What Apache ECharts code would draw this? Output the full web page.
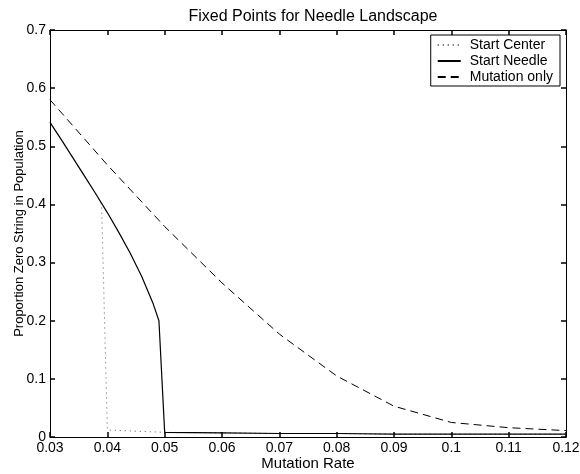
<!DOCTYPE html>
<html>
<head>
<meta charset="utf-8">
<script src="https://cdn.jsdelivr.net/npm/echarts@6/dist/echarts.min.js"></script>
<style>
  html, body { margin: 0; padding: 0; background: #fff; }
  #main { width: 580px; height: 474px; }
</style>
</head>
<body>
<div id="main"></div>
<script>
// values
var centerX = [0.03, 0.032, 0.034, 0.036, 0.038, 0.039, 0.04, 0.05, 0.06, 0.07, 0.08, 0.09, 0.1, 0.11, 0.12];
var centerY = [0.541, 0.511, 0.480, 0.449, 0.418, 0.400, 0.012, 0.008, 0.007, 0.006, 0.006, 0.005, 0.005, 0.005, 0.005];

var needleX = [0.03, 0.032, 0.034, 0.036, 0.038, 0.04, 0.042, 0.044, 0.046, 0.048, 0.049, 0.05, 0.06, 0.07, 0.08, 0.09, 0.1, 0.11, 0.12];
var needleY = [0.541, 0.511, 0.480, 0.449, 0.418, 0.386, 0.352, 0.316, 0.276, 0.229, 0.200, 0.008, 0.007, 0.006, 0.006, 0.005, 0.005, 0.005, 0.005];

var mutX = [0.03, 0.04, 0.05, 0.06, 0.07, 0.08, 0.09, 0.1, 0.11, 0.12];
var mutY = [0.580, 0.468, 0.362, 0.265, 0.177, 0.105, 0.053, 0.025, 0.016, 0.011];

var names = ['Start Center', 'Start Needle', 'Mutation only'];

function pairs(xs, ys) {
    return xs.map(function (x, i) { return [x, ys[i]]; });
}

var font = 'Liberation Sans, Arial, sans-serif';
var chart = echarts.init(document.getElementById('main'));

function tick() {
    return { show: true, inside: true, length: 5, lineStyle: { color: '#000', width: 1.5 } };
}
function line() {
    return { show: true, onZero: false, lineStyle: { color: '#000', width: 1 } };
}

var option = {
    animation: false,
    backgroundColor: '#fff',
    title: {
        text: 'Fixed Points for Needle Landscape',
        left: 308,
        textAlign: 'center',
        top: 4,
        textStyle: { fontFamily: font, fontSize: 16, fontWeight: 'normal', color: '#000' }
    },
    legend: {
        data: names,
        orient: 'vertical',
        right: 20,
        top: 35,
        itemWidth: 23,
        itemHeight: 14,
        itemGap: 2,
        padding: [3, 7, 2, 6],
        borderColor: '#000',
        borderWidth: 1,
        backgroundColor: '#fff',
        itemStyle: { opacity: 0 },
        textStyle: { fontFamily: font, fontSize: 14, color: '#000', padding: [0, 0, 0, 4] }
    },
    grid: { left: 50, right: 14, top: 30, bottom: 37, outerBoundsMode: 'none', containLabel: false },
    xAxis: [{
        type: 'value',
        min: 0.03, max: 0.12, interval: 0.01,
        name: 'Mutation Rate',
        nameLocation: 'middle',
        nameGap: 19,
        nameMoveOverlap: false,
        nameTextStyle: { fontFamily: font, fontSize: 15, color: '#000' },
        axisLine: line(), axisTick: tick(),
        splitLine: { show: false },
        axisLabel: {
            margin: 4, fontFamily: font, fontSize: 14, color: '#000',
            formatter: function (v) { return String(+v.toFixed(2)); }
        }
    }, {
        type: 'value', position: 'top',
        min: 0.03, max: 0.12, interval: 0.01,
        axisLine: line(), axisTick: tick(),
        axisLabel: { show: false }, splitLine: { show: false }
    }],
    yAxis: [{
        type: 'value',
        min: 0, max: 0.7, interval: 0.1,
        name: 'Proportion Zero String in Population',
        nameLocation: 'middle',
        nameGap: 24,
        nameMoveOverlap: false,
        nameTextStyle: { fontFamily: font, fontSize: 13, color: '#000' },
        axisLine: line(), axisTick: tick(),
        splitLine: { show: false },
        axisLabel: {
            margin: 4, fontFamily: font, fontSize: 14, color: '#000',
            formatter: function (v) { return String(+v.toFixed(1)); }
        }
    }, {
        type: 'value', position: 'right',
        min: 0, max: 0.7, interval: 0.1,
        axisLine: line(), axisTick: tick(),
        axisLabel: { show: false }, splitLine: { show: false }
    }],
    series: [
        {
            name: names[0], type: 'line', symbol: 'none',
            data: pairs(centerX, centerY),
            lineStyle: { color: '#555', width: 1, type: [1, 4] },
            itemStyle: { color: '#555' }
        },
        {
            name: names[1], type: 'line', symbol: 'none',
            data: pairs(needleX, needleY),
            lineStyle: { color: '#000', width: 1.2, type: 'solid' },
            itemStyle: { color: '#000' }
        },
        {
            name: names[2], type: 'line', symbol: 'none',
            data: pairs(mutX, mutY),
            lineStyle: { color: '#000', width: 1, type: [8, 5] },
            itemStyle: { color: '#000' }
        }
    ]
};
chart.setOption(option);
</script>
</body>
</html>
